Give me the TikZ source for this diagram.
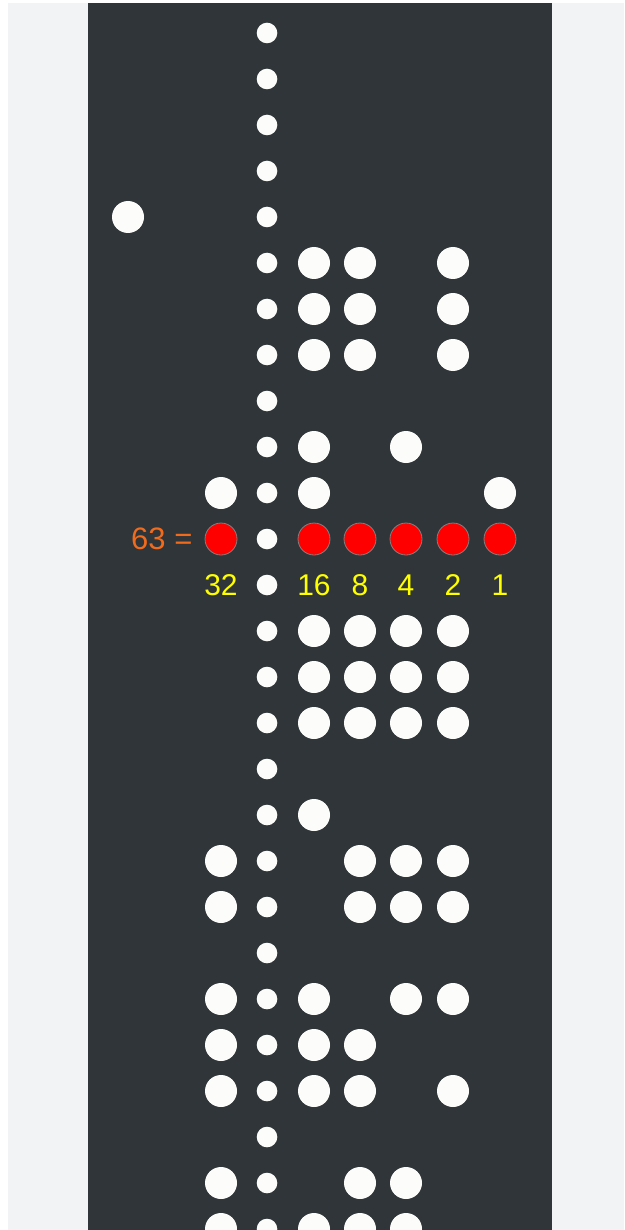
\documentclass[tikz,border=0pt]{standalone}
\usepackage{fontspec}
\setmainfont{Liberation Sans}
\usepackage{xcolor}
\usepackage{tikz}
\usetikzlibrary{positioning}
\definecolor{tapegray}{HTML}{2F3538}
\definecolor{papergray}{HTML}{F2F3F5}
\definecolor{holewhite}{HTML}{FCFCFA}
\definecolor{sumorange}{HTML}{F26A1B}
\definecolor{bityellow}{HTML}{FFFF00}

\begin{document}
\begin{tikzpicture}[x=1pt, y=-1pt,
    hole/.style={fill=holewhite},
    bithole/.style={circle, fill=red, draw=gray, line width=0.8pt, minimum size=32pt, inner sep=0pt},
    bitlabel/.style={text=bityellow, font=\fontsize{30}{36}\selectfont, inner sep=0pt}]
  \useasboundingbox (0,0) rectangle (624,1230);
  \fill[papergray] (0,0) rectangle (624,1230);
  \fill[white] (0,0) rectangle (8,1230);
  \fill[white] (0,0) rectangle (624,3);
  \fill[tapegray] (88,3) rectangle (552,1230);
  % sprocket track
  \foreach \k in {0,...,26}
    \fill[hole] (267,33+46*\k) circle (10.3pt);
  \fill[hole] (128,217) circle (16pt);
  % punched rows
  \foreach \k/\cols in {5/{314,360,453}, 6/{314,360,453}, 7/{314,360,453},
      9/{314,406}, 10/{221,314,500},
      13/{314,360,406,453}, 14/{314,360,406,453}, 15/{314,360,406,453},
      17/{314}, 18/{221,360,406,453}, 19/{221,360,406,453},
      21/{221,314,406,453}, 22/{221,314,360}, 23/{221,314,360,453},
      25/{221,360,406}, 26/{221,314,360,406}}
    \foreach \x in \cols
      \fill[hole] (\x,33+46*\k) circle (16pt);
  % the 63 row
  \foreach \x/\v in {221/32, 314/16, 360/8, 406/4, 453/2, 500/1} {
    \node[bithole] (h\v) at (\x,539) {};
    \node[bitlabel, below=19pt of h\v] (l\v) {\v};
  }
  \node[text=sumorange, font=\fontsize{31}{36}\selectfont, inner sep=0pt, left=12pt of h32] (sum) {63 =};
\end{tikzpicture}
\end{document}
